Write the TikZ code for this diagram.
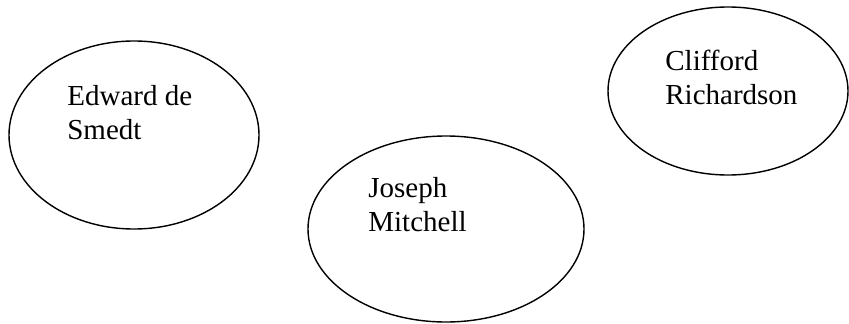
\documentclass[tikz,border=0pt]{standalone}
\usepackage{fontspec}
\setmainfont{Liberation Serif}
\usetikzlibrary{shapes.geometric}
\begin{document}
\begin{tikzpicture}[
    nameOvalS/.style={draw,ellipse,line width=0.8pt,inner sep=0pt},
    nameTxtS/.style={anchor=north west,inner sep=0pt,align=left,
        font=\fontsize{16.5}{19.4}\selectfont},
]
\useasboundingbox (0,0) rectangle (16.98,6.46);
% the three people
\node[nameOvalS, minimum width=5.0cm, minimum height=3.76cm] (smedt) at (2.68,3.76) {};
\node[nameOvalS, minimum width=5.52cm, minimum height=3.72cm] (mitchell) at (8.92,1.88) {};
\node[nameOvalS, minimum width=4.8cm, minimum height=3.36cm] (richardson) at (14.56,4.64) {};
% names, set to the upper left in each oval
\node[nameTxtS] (smedtTxt) at (1.34,4.76) {Edward de\\Smedt};
\node[nameTxtS] (mitchellTxt) at (7.36,2.92) {Joseph\\Mitchell};
\node[nameTxtS] (richardsonTxt) at (13.30,5.46) {Clifford\\Richardson};
\end{tikzpicture}
\end{document}
